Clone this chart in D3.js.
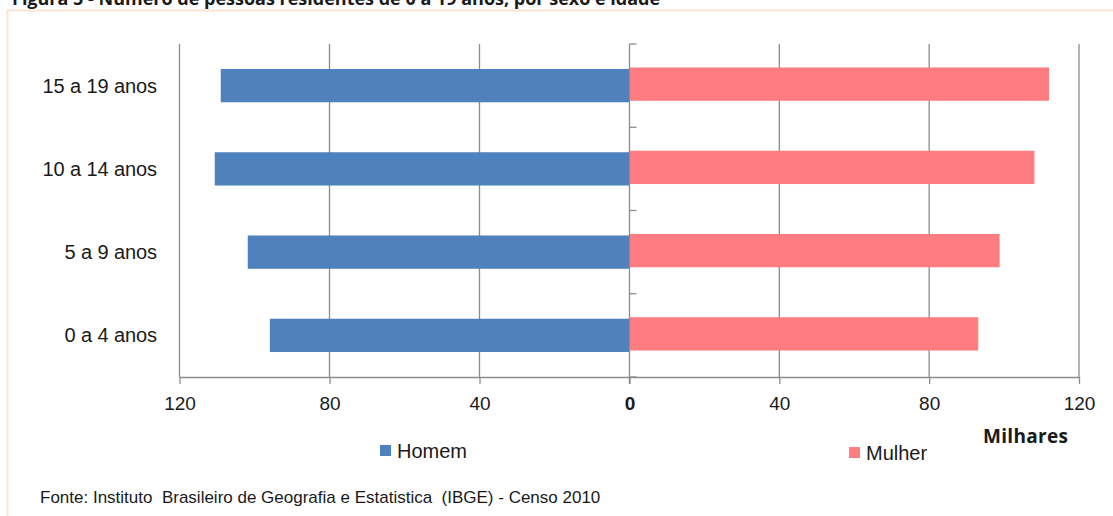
<!DOCTYPE html>
<html>
<head>
<meta charset="utf-8">
<script src="https://cdn.jsdelivr.net/npm/d3@7"></script>
<style>
  html, body { margin: 0; padding: 0; background: #ffffff; }
  svg { display: block; }
  text { font-family: "Liberation Sans", Arial, sans-serif; fill: #1a1a1a; }
</style>
</head>
<body>
<svg id="chart" width="1113" height="516"></svg>
<script>
// Population by age group (thousands), IBGE Census 2010
const ageGroups = ["15 a 19 anos", "10 a 14 anos", "5 a 9 anos", "0 a 4 anos"];
const homem = [109.0, 110.6, 101.8, 95.9];
const mulher = [112.0, 108.1, 98.8, 93.1];
const tickValues = [0, 40, 80, 120];
const seriesNames = ["Homem", "Mulher"];
const colors = { Homem: "#4f81bd", Mulher: "#ff7c80" };

const svg = d3.select("#chart");

// Frame around the figure
svg.append("path")
  .attr("d", "M7.5,530 L7.5,10.5 L1120,10.5")
  .attr("fill", "none")
  .attr("stroke", "#fbe4d5")
  .attr("stroke-width", 2);

// Figure caption (runs off the top edge of the page)
svg.append("text")
  .attr("x", 12).attr("y", 4.5)
  .style("font-family", "'Open Sans', sans-serif")
  .style("font-weight", "bold")
  .style("font-size", "18px")
  .text("Figura 5 - Número de pessoas residentes de 0 a 19 anos, por sexo e idade");

const plotTop = 44, plotBottom = 377, x0 = 629.5, xL = 179.5, xR = 1079;

const xMale = d3.scaleLinear().domain([0, 120]).range([x0, xL]);
const xFemale = d3.scaleLinear().domain([0, 120]).range([x0, xR]);
const y = d3.scaleBand().domain(ageGroups).range([plotTop, plotBottom])
  .paddingInner(0.6).paddingOuter(0.3);

const gridColor = "#8c8c8c";

// Vertical gridlines
const gridVals = [];
tickValues.filter(v => v > 0).forEach(v => { gridVals.push(xMale(v)); gridVals.push(xFemale(v)); });
svg.append("g").selectAll("line").data(gridVals).join("line")
  .attr("x1", d => d).attr("x2", d => d)
  .attr("y1", plotTop).attr("y2", plotBottom)
  .attr("stroke", gridColor).attr("stroke-width", 1.3);

// Bars
const rows = ageGroups.map((g, i) => ({ g, h: homem[i], m: mulher[i] }));
svg.append("g").selectAll("rect").data(rows).join("rect")
  .attr("x", d => xMale(d.h))
  .attr("y", d => y(d.g))
  .attr("width", d => xMale(0) - xMale(d.h))
  .attr("height", y.bandwidth())
  .attr("fill", colors.Homem);
svg.append("g").selectAll("rect").data(rows).join("rect")
  .attr("x", xFemale(0))
  .attr("y", d => y(d.g) - 1.5)
  .attr("width", d => xFemale(d.m) - xFemale(0))
  .attr("height", y.bandwidth())
  .attr("fill", colors.Mulher);

// Bottom axes (left half reversed, right half)
function styleAxis(g) {
  g.select(".domain").attr("stroke", gridColor).attr("stroke-width", 1.3);
  g.selectAll(".tick line").attr("stroke", gridColor).attr("stroke-width", 1.3);
  g.selectAll(".tick text")
    .style("font-family", "'Liberation Sans', Arial, sans-serif")
    .style("font-size", "19px")
    .attr("fill", "#1a1a1a")
    .attr("dy", "0.95em");
}
const axMale = svg.append("g").attr("transform", `translate(0,${plotBottom})`)
  .call(d3.axisBottom(xMale).tickValues(tickValues).tickSize(7).tickPadding(8).tickSizeOuter(0))
  .call(styleAxis);
axMale.selectAll(".tick text").filter(d => d === 0).style("font-weight", "bold");
svg.append("g").attr("transform", `translate(0,${plotBottom})`)
  .call(d3.axisBottom(xFemale).tickValues(tickValues.filter(v => v > 0)).tickSize(7).tickPadding(8).tickSizeOuter(0))
  .call(styleAxis);

// Zero axis with category separators
svg.append("line")
  .attr("x1", x0).attr("x2", x0).attr("y1", plotTop).attr("y2", plotBottom + 7)
  .attr("stroke", gridColor).attr("stroke-width", 1.3);
const seps = d3.range(ageGroups.length + 1).map(i => plotTop + i * y.step());
svg.append("g").selectAll("line").data(seps).join("line")
  .attr("x1", x0).attr("x2", x0 + 7)
  .attr("y1", d => d).attr("y2", d => d)
  .attr("stroke", gridColor).attr("stroke-width", 1.3);

// Category labels
svg.append("g").selectAll("text").data(ageGroups).join("text")
  .attr("x", 157)
  .attr("y", d => y(d) + y.bandwidth() / 2)
  .attr("dy", "0.35em")
  .attr("text-anchor", "end")
  .style("font-size", "20px")
  .style("letter-spacing", "-0.1px")
  .text(d => d);

// Unit label
svg.append("text")
  .attr("x", 983).attr("y", 443)
  .style("font-family", "'Open Sans', sans-serif")
  .style("font-weight", "bold")
  .style("font-size", "19px")
  .style("letter-spacing", "0.3px")
  .text("Milhares");

// Legend
const legendPos = [{ x: 380, y: 445 }, { x: 849, y: 447 }];
seriesNames.forEach((name, i) => {
  const p = legendPos[i];
  svg.append("rect").attr("x", p.x).attr("y", p.y).attr("width", 11).attr("height", 11)
    .attr("fill", colors[name]);
  svg.append("text").attr("x", p.x + 17).attr("y", p.y + 13)
    .style("font-size", "20px")
    .text(name);
});

// Source note
svg.append("text")
  .attr("x", 40).attr("y", 503)
  .attr("xml:space", "preserve")
  .style("font-size", "17px")
  .text("Fonte: Instituto  Brasileiro de Geografia e Estatistica  (IBGE) - Censo 2010");
</script>
</body>
</html>
